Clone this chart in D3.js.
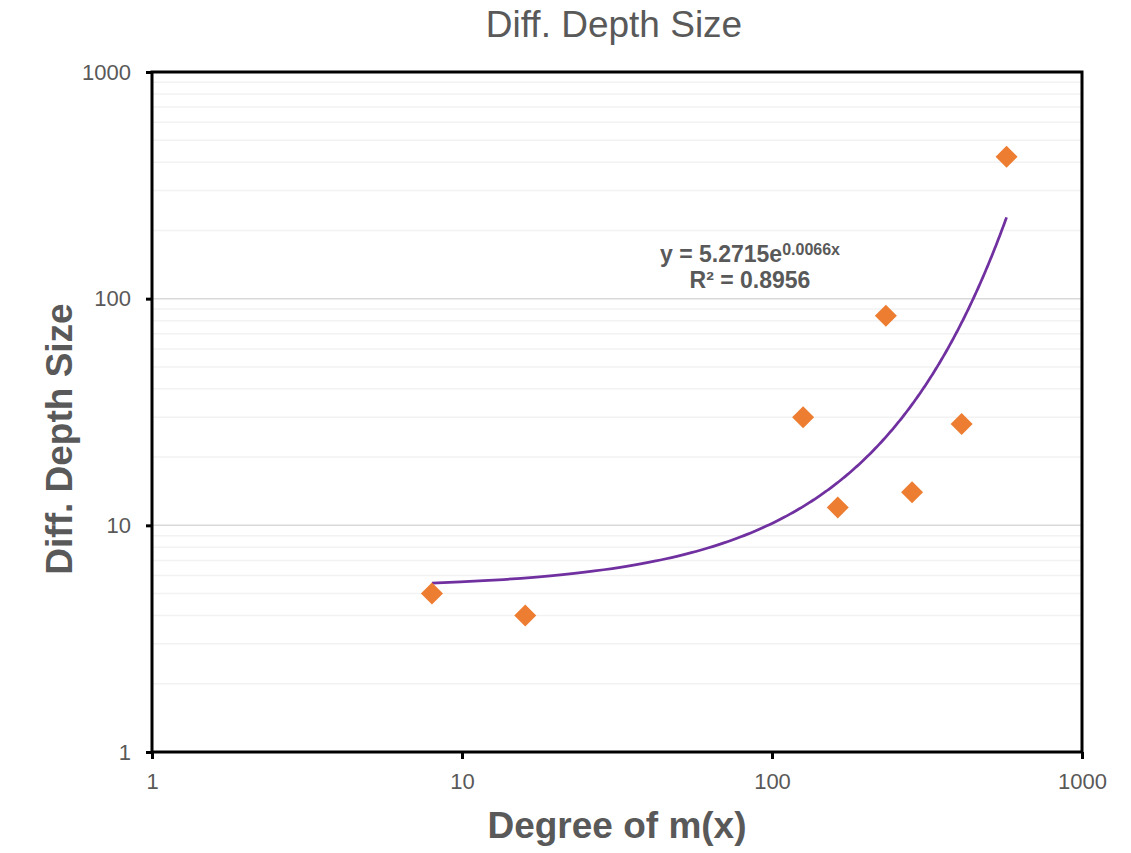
<!DOCTYPE html>
<html><head><meta charset="utf-8">
<script src="https://cdn.jsdelivr.net/npm/d3@7/dist/d3.min.js"></script>
<style>body{margin:0;background:#fff}svg{display:block}text{font-family:"Liberation Sans",Arial,sans-serif}</style>
</head><body>
<script>
const degrees = [8, 16, 126, 163, 233, 283, 409, 571];
const depthSizes = [5, 4, 30, 12, 84, 14, 28, 423];
const xTickValues = [1, 10, 100, 1000];
const yTickValues = [1, 10, 100, 1000];
const trendA = 5.2715, trendB = 0.0066;
const trendLabel = {eq: "y = 5.2715e", exp: "0.0066x", r2: "R² = 0.8956"};
const chartTitle = "Diff. Depth Size", xTitle = "Degree of m(x)", yTitle = "Diff. Depth Size";

const W = 1131, H = 853;
const m = {l: 152, r: 1082, t: 72, b: 752};
const svg = d3.select("body").append("svg").attr("width", W).attr("height", H);
const x = d3.scaleLog().domain([1, 1000]).range([m.l, m.r]);
const y = d3.scaleLog().domain([1, 1000]).range([m.b, m.t]);
const grey = "#595959";

// minor gridlines
const minor = [];
for (let d = 1; d < 1000; d *= 10) for (let k = 2; k <= 9; k++) minor.push(d * k);
svg.append("g").selectAll("line").data(minor).join("line")
  .attr("x1", m.l).attr("x2", m.r).attr("y1", d => y(d)).attr("y2", d => y(d))
  .attr("stroke", "#f2f2f2").attr("stroke-width", 1.5);
svg.append("g").selectAll("line").data(yTickValues.slice(1, -1)).join("line")
  .attr("x1", m.l).attr("x2", m.r).attr("y1", d => y(d)).attr("y2", d => y(d))
  .attr("stroke", "#d9d9d9").attr("stroke-width", 1.5);

// axes
const yAxis = svg.append("g").attr("transform", `translate(${m.l},0)`)
  .call(d3.axisLeft(y).tickValues(yTickValues).tickFormat(d3.format("d")).tickSize(6).tickPadding(15));
const xAxis = svg.append("g").attr("transform", `translate(0,${m.b})`)
  .call(d3.axisBottom(x).tickValues(xTickValues).tickFormat(d3.format("d")).tickSize(7).tickPadding(14));
[yAxis, xAxis].forEach(g => {
  g.select(".domain").remove();
  g.selectAll(".tick line").attr("stroke", "#000").attr("stroke-width", 3);
  g.selectAll(".tick text").attr("fill", grey).style("font-size", "22px");
});
// frame
svg.append("rect").attr("x", m.l).attr("y", m.t).attr("width", m.r - m.l).attr("height", m.b - m.t)
  .attr("fill", "none").attr("stroke", "#000").attr("stroke-width", 3);

// trendline
const [xmin, xmax] = d3.extent(degrees);
const trendPts = d3.range(0, 301).map(i => {
  const xv = xmin + (xmax - xmin) * i / 300;
  return [xv, trendA * Math.exp(trendB * xv)];
});
svg.append("path").datum(trendPts)
  .attr("d", d3.line().x(d => x(d[0])).y(d => y(d[1])))
  .attr("fill", "none").attr("stroke", "#7030A0").attr("stroke-width", 2.75);

// points
svg.append("g").selectAll("path").data(degrees.map((d, i) => [d, depthSizes[i]])).join("path")
  .attr("transform", d => `translate(${x(d[0])},${y(d[1])})`)
  .attr("d", "M0,-11L11,0L0,11L-11,0Z").attr("fill", "#ED7D31");

// trend label
const tl = svg.append("text").attr("x", 750).attr("y", 262).attr("text-anchor", "middle")
  .attr("fill", grey).style("font-weight", "bold").style("font-size", "23px");
tl.append("tspan").text(trendLabel.eq);
tl.append("tspan").attr("dy", -7).style("font-size", "16px").text(trendLabel.exp);
svg.append("text").attr("x", 750).attr("y", 288).attr("text-anchor", "middle")
  .attr("fill", grey).style("font-weight", "bold").style("font-size", "23px").text(trendLabel.r2);

// titles
svg.append("text").attr("x", 614).attr("y", 37).attr("text-anchor", "middle")
  .attr("fill", grey).style("font-size", "37px").text(chartTitle);
svg.append("text").attr("x", 617).attr("y", 838).attr("text-anchor", "middle")
  .attr("fill", grey).style("font-size", "37px").style("font-weight", "bold").text(xTitle);
svg.append("text").attr("transform", "translate(72,439) rotate(-90)").attr("text-anchor", "middle")
  .attr("fill", grey).style("font-size", "37px").style("font-weight", "bold").text(yTitle);
</script>
</body></html>
